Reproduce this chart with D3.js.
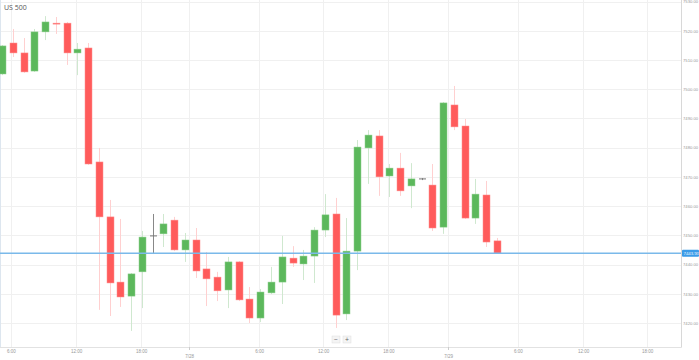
<!DOCTYPE html>
<html><head><meta charset="utf-8">
<script src="https://cdn.jsdelivr.net/npm/d3@7/dist/d3.min.js"></script>
<style>html,body{margin:0;padding:0;background:#fff;}svg{display:block;font-family:"Open Sans",Arial,sans-serif;}</style>
</head><body><svg id="c" width="699" height="360"></svg>
<script>
const opens  = [7505.2,7515.8,7512.4,7506.2,7519.6,7522.6,7522.6,7512.4,7514.1,7475.1,7456.3,7434.0,7429.2,7437.5,7449.8,7450.5,7455.2,7445.0,7448.4,7438.5,7435.7,7431.3,7440.9,7428.2,7421.7,7430.3,7434.0,7442.2,7440.2,7442.9,7451.8,7457.3,7423.1,7444.6,7479.9,7484.0,7470.3,7473.0,7466.9,7469.3,7467.2,7452.8,7494.6,7487.4,7455.9,7463.8,7448.1];
const highs  = [7515.1,7520.6,7517.5,7520.6,7525.0,7524.7,7523.0,7515.8,7515.8,7479.9,7462.1,7455.6,7437.1,7451.5,7457.3,7457.3,7456.3,7450.8,7452.5,7444.3,7437.5,7442.6,7441.2,7432.3,7431.6,7439.2,7449.8,7446.3,7445.0,7452.8,7464.1,7462.8,7455.9,7482.6,7486.0,7486.0,7474.4,7478.2,7474.7,7469.6,7474.4,7495.6,7501.1,7489.8,7469.3,7468.6,7449.1];
const lows   = [7504.8,7511.0,7505.6,7505.9,7516.8,7518.9,7508.3,7504.8,7474.1,7424.5,7422.4,7425.5,7417.3,7425.1,7443.6,7446.0,7444.6,7440.9,7435.4,7425.8,7427.5,7425.1,7427.5,7420.0,7420.3,7429.9,7426.5,7439.2,7434.7,7433.7,7449.4,7418.3,7421.0,7438.1,7467.6,7463.5,7463.1,7463.5,7459.3,7468.9,7451.5,7450.5,7486.0,7455.6,7453.9,7446.0,7443.6];
const closes = [7514.8,7512.4,7505.9,7519.6,7523.0,7522.3,7512.4,7513.7,7474.4,7456.3,7433.7,7428.9,7436.8,7449.4,7449.8,7453.9,7445.0,7448.4,7437.8,7435.1,7431.0,7440.9,7427.9,7421.7,7430.6,7434.0,7442.6,7440.5,7442.9,7451.8,7457.0,7422.7,7444.6,7480.2,7484.3,7470.0,7473.0,7465.2,7469.3,7469.3,7452.5,7495.3,7487.1,7455.9,7464.1,7447.7,7443.9];
const yTicks = [7530,7520,7510,7500,7490,7480,7470,7460,7450,7440,7430,7420];
const timeTickPos = [0.83,6.88,12.92,23.9,29.84,35.9,47.95,54.0,59.95];
const timeTickLabels = ["6:00","12:00","18:00","6:00","12:00","18:00","6:00","12:00","18:00"];
const dateTickPos = [17.4,41.45];
const dateTickLabels = ["7/28","7/29"];
const title = "US 500";
const lastPrice = 7443.9;

const svg = d3.select("#c");
const W=699,H=360, plotR=681, plotB=347;
const x = d3.scaleLinear().domain([0,46]).range([2,2+10.76*46]);
const y = d3.scaleLinear().domain([7530,7420]).range([1.5,323]);

const g = svg.append("g");
// horizontal grid
g.selectAll("line.hg").data(yTicks).enter().append("line")
 .attr("x1",0).attr("x2",plotR).attr("y1",d=>Math.round(y(d))+0.5).attr("y2",d=>Math.round(y(d))+0.5)
 .attr("stroke","#f0f0f0").attr("stroke-width",1);
// vertical grid
g.selectAll("line.vg").data(timeTickPos.concat(dateTickPos)).enter().append("line")
 .attr("x1",d=>Math.round(x(d))+0.5).attr("x2",d=>Math.round(x(d))+0.5).attr("y1",0).attr("y2",plotB)
 .attr("stroke","#f0f0f0").attr("stroke-width",1);
// borders
g.append("line").attr("x1",plotR+0.5).attr("x2",plotR+0.5).attr("y1",0).attr("y2",plotB+0.5).attr("stroke","#d8d8d8");
g.append("line").attr("x1",0).attr("x2",plotR+0.5).attr("y1",plotB+0.5).attr("y2",plotB+0.5).attr("stroke","#e2e2e2");
g.append("line").attr("x1",0.5).attr("x2",0.5).attr("y1",0).attr("y2",plotB).attr("stroke","#dde6ef");

// y axis labels
const yAxis = d3.axisRight(y).tickValues(yTicks).tickSize(0).tickPadding(0).tickFormat(d3.format(".2f"));
const ya = svg.append("g").attr("transform",`translate(${plotR+2},0)`).call(yAxis);
ya.select(".domain").remove();
ya.selectAll("text").attr("fill","#999").style("font-size","4.2px");

// x axis labels
const xAxis = d3.axisBottom(x).tickValues(timeTickPos).tickSize(0).tickPadding(0).tickFormat((d,i)=>timeTickLabels[i]);
const xa = svg.append("g").attr("transform",`translate(0,${plotB+3})`).call(xAxis);
xa.select(".domain").remove();
xa.selectAll("text").attr("fill","#999").style("font-size","4.5px");
const xAxis2 = d3.axisBottom(x).tickValues(dateTickPos).tickSize(0).tickPadding(0).tickFormat((d,i)=>dateTickLabels[i]);
const xa2 = svg.append("g").attr("transform",`translate(0,${plotB+8})`).call(xAxis2);
xa2.select(".domain").remove();
xa2.selectAll("text").attr("fill","#999").style("font-size","4.5px");
svg.selectAll("line.dt").data(dateTickPos).enter().append("line")
 .attr("x1",d=>Math.round(x(d))+0.5).attr("x2",d=>Math.round(x(d))+0.5).attr("y1",plotB).attr("y2",plotB+3)
 .attr("stroke","#ccc");

// candles
const data = opens.map((o,i)=>({i,o,h:highs[i],l:lows[i],c:closes[i]}));
const col = d=> d.c>d.o ? "up" : (d.c<d.o ? "down" : "flat");
const wickCol = {up:"#cfe8cf",down:"#ffd0d0",flat:"#888"};
const bodyCol = {up:"#5cb85c",down:"#ff5b5b",flat:"#777"};
const bw = 7;
const cg = svg.append("g");
cg.selectAll("line.w").data(data).enter().append("line")
 .attr("x1",d=>Math.round(x(d.i))+0.5).attr("x2",d=>Math.round(x(d.i))+0.5)
 .attr("y1",d=>y(d.h)).attr("y2",d=>y(d.l))
 .attr("stroke",d=>wickCol[col(d)]).attr("stroke-width",1);
cg.selectAll("rect.b").data(data.filter(d=>col(d)!=="flat")).enter().append("rect")
 .attr("x",d=>Math.round(x(d.i))-3).attr("width",bw)
 .attr("y",d=>y(Math.max(d.o,d.c))).attr("height",d=>Math.max(1,Math.abs(y(d.o)-y(d.c))))
 .attr("fill",d=>bodyCol[col(d)]).attr("stroke",d=>col(d)==="up"?"#8fd08f":"#ff9090").attr("stroke-width",0.5);
cg.selectAll("line.f").data(data.filter(d=>col(d)==="flat")).enter().append("line")
 .attr("x1",d=>Math.round(x(d.i))-3).attr("x2",d=>Math.round(x(d.i))+4)
 .attr("y1",d=>y(d.o)).attr("y2",d=>y(d.o)).attr("stroke","#777").attr("stroke-width",1);

// current price line
const py = y(lastPrice);
svg.append("line").attr("x1",0).attr("x2",plotR).attr("y1",py).attr("y2",py).attr("stroke","#7ab9ea").attr("stroke-width",1.5);
svg.append("rect").attr("x",plotR+1).attr("y",py-3.5).attr("width",17).attr("height",7).attr("rx",1).attr("fill","#3b9be8");
svg.append("text").attr("x",plotR+2.5).attr("y",py+1.5).attr("fill","#fff").style("font-size","4.2px").text(d3.format(".2f")(lastPrice));

// title
svg.append("text").attr("x",4).attr("y",9.5).attr("fill","#555").style("font-size","7px").text(title);

// zoom buttons
const btns = ["−","+"];
const bg = svg.selectAll("g.btn").data(btns).enter().append("g").attr("transform",(d,i)=>`translate(${332+i*11},336)`);
bg.append("rect").attr("width",8).attr("height",7).attr("fill","#f4f4f4").attr("stroke","#ddd").attr("stroke-width",0.5);
bg.append("text").attr("x",4).attr("y",5.6).attr("text-anchor","middle").attr("fill","#666").style("font-size","7px").text(d=>d);
</script></body></html>
